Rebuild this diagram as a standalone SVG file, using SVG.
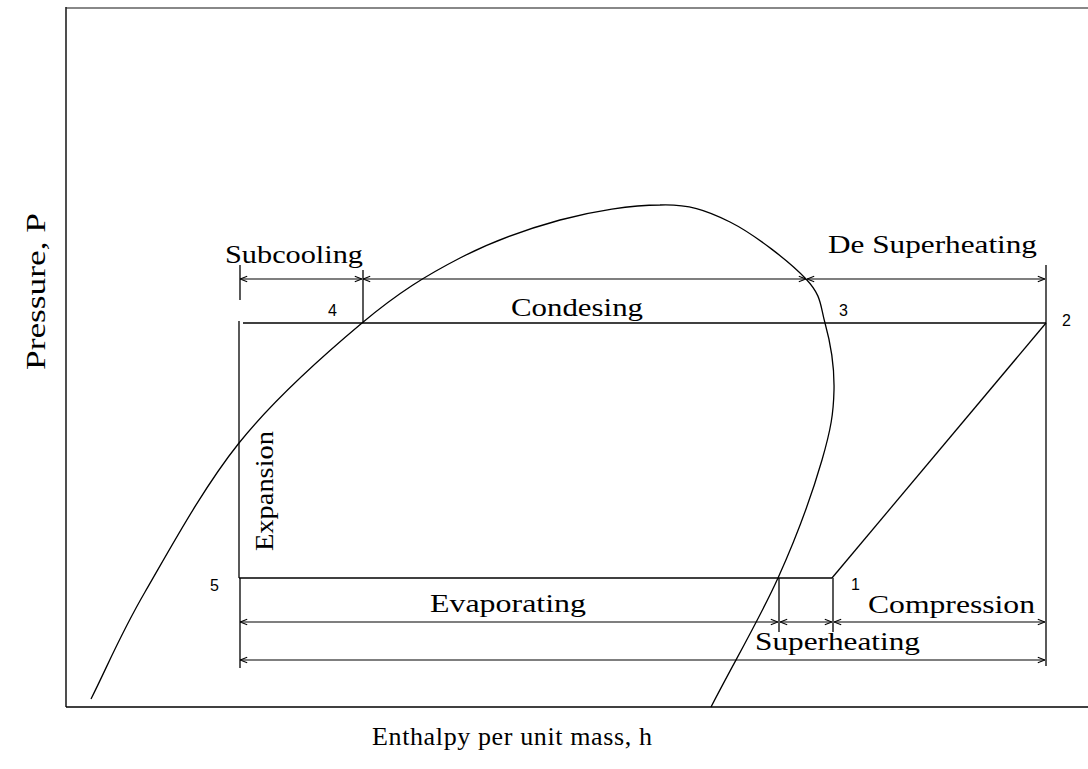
<svg xmlns="http://www.w3.org/2000/svg" width="1088" height="769" viewBox="0 0 1088 769">
<style>
.ln{stroke:#000;stroke-width:1.3;fill:none}
.dim{stroke:#000;stroke-width:1.1;fill:none;marker-start:url(#ah);marker-end:url(#ah)}
.lbl{font-family:"Liberation Serif","Times New Roman",serif;font-size:26px;fill:#000}
.num{font-family:"Liberation Sans",Arial,sans-serif;font-size:16px;fill:#000}
</style>
<defs>
<marker id="ah" viewBox="0 0 10 10" refX="10" refY="5" markerWidth="8" markerHeight="8" markerUnits="userSpaceOnUse" orient="auto-start-reverse">
<path d="M1 1.5 L10 5 L1 8.5" fill="none" stroke="#000" stroke-width="1.4"/>
</marker>
</defs>
<rect width="1088" height="769" fill="#fff"/>
<g id="frame">
<line x1="66" y1="8" x2="1088" y2="8" stroke="#888" stroke-width="2"/>
<line x1="66" y1="7" x2="66" y2="707" stroke="#222" stroke-width="1.6"/>
<line x1="66" y1="707" x2="1088" y2="707" stroke="#000" stroke-width="1.3"/>
</g>
<g id="saturation-dome">
<path class="ln" d="M91 699 C109 663 120 635 145 592 C170 549 203 488 239 443 C275 398 325 354 362 323 C399 292 427 275 460 258 C493 241 527 229 560 220 C593 211 632 205 660 205 C688 204 706 210 730 222 C754 234 790 262 806 279 C822 296 820 305 825 323 C830 341 834.5 367 834 390 C833.5 413 831 429 822 460 C813 491 796.5 537 778 578 C759.5 619 733 664 711 707"/>
</g>
<g id="cycle">
<line class="ln" x1="243" y1="323" x2="1046" y2="323"/>
<line class="ln" x1="239" y1="321" x2="239" y2="578"/>
<line class="ln" x1="239" y1="578" x2="832" y2="578"/>
<line class="ln" x1="832" y1="578" x2="1046" y2="323"/>
</g>
<g id="connectors">
<line class="ln" x1="240" y1="265" x2="240" y2="300" stroke-width="1"/>
<line class="ln" x1="363" y1="270" x2="363" y2="323" stroke-width="1"/>
<line class="ln" x1="1046" y1="265" x2="1046" y2="666" stroke-width="1"/>
<line class="ln" x1="240" y1="578" x2="240" y2="668" stroke-width="1"/>
<line class="ln" x1="779" y1="578" x2="779" y2="632" stroke-width="1"/>
<line class="ln" x1="833" y1="578" x2="833" y2="632" stroke-width="1"/>
<line class="dim" x1="240" y1="279" x2="362" y2="279"/>
<line class="dim" x1="363" y1="279" x2="806" y2="279"/>
<line class="dim" x1="807" y1="279" x2="1045" y2="279"/>
<line class="dim" x1="240" y1="622" x2="778" y2="622"/>
<line class="dim" x1="780" y1="622" x2="832" y2="622"/>
<line class="dim" x1="834" y1="622" x2="1045" y2="622"/>
<line class="dim" x1="240" y1="660" x2="1045" y2="660"/>
</g>
<g id="labels">
<text class="lbl" x="225" y="263" textLength="138" lengthAdjust="spacingAndGlyphs">Subcooling</text>
<text class="lbl" x="828" y="253" textLength="209" lengthAdjust="spacingAndGlyphs">De Superheating</text>
<text class="lbl" x="511" y="316" textLength="132" lengthAdjust="spacingAndGlyphs">Condesing</text>
<text class="lbl" x="430" y="612" textLength="156" lengthAdjust="spacingAndGlyphs">Evaporating</text>
<text class="lbl" x="868" y="613" textLength="167" lengthAdjust="spacingAndGlyphs">Compression</text>
<text class="lbl" x="755" y="650" textLength="165" lengthAdjust="spacingAndGlyphs">Superheating</text>
<text class="lbl" transform="translate(273 551) rotate(-90)" textLength="120" lengthAdjust="spacingAndGlyphs">Expansion</text>
<text class="lbl" transform="translate(45 370) rotate(-90)" style="font-size:28px" textLength="157" lengthAdjust="spacingAndGlyphs">Pressure, P</text>
<text class="lbl" x="372" y="745" textLength="280" lengthAdjust="spacing">Enthalpy per unit mass, h</text>
</g>
<g id="points">
<text class="num" x="328" y="316">4</text>
<text class="num" x="839" y="316">3</text>
<text class="num" x="1062" y="326">2</text>
<text class="num" x="210" y="591">5</text>
<text class="num" x="851" y="590">1</text>
</g>
</svg>
